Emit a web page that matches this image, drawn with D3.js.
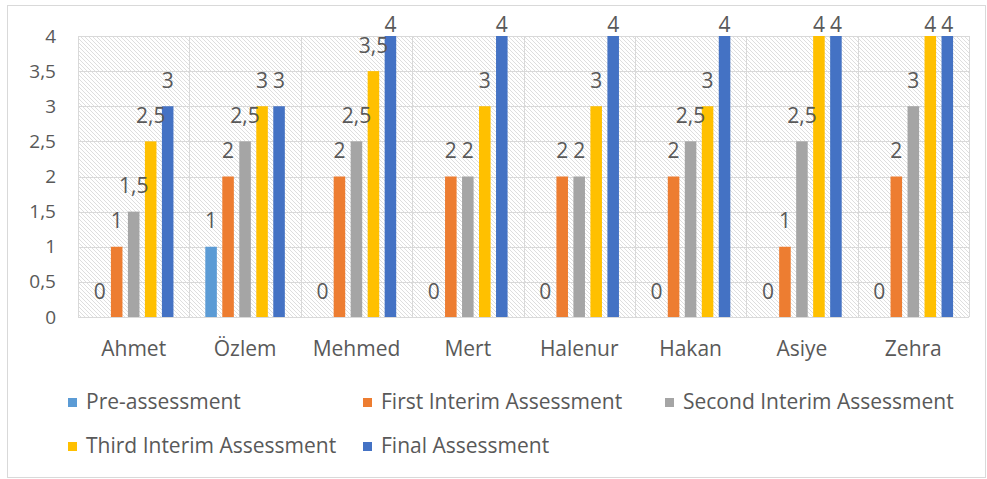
<!DOCTYPE html>
<html>
<head>
<meta charset="utf-8">
<script src="https://cdn.jsdelivr.net/npm/d3@7"></script>
<style>
  html, body { margin: 0; padding: 0; background: #ffffff; }
  svg { display: block; }
  text { font-family: "Open Sans", "Noto Sans", sans-serif; fill: #595959; }
</style>
</head>
<body>
<svg id="chart" width="987" height="479"></svg>
<script>
// ---- data ----
const categories = ["Ahmet", "Özlem", "Mehmed", "Mert", "Halenur", "Hakan", "Asiye", "Zehra"];
const seriesNames = ["Pre-assessment", "First Interim Assessment", "Second Interim Assessment", "Third Interim Assessment", "Final Assessment"];
const preAssessment    = [0, 1, 0, 0, 0, 0, 0, 0];
const firstInterim     = [1, 2, 2, 2, 2, 2, 1, 2];
const secondInterim    = [1.5, 2.5, 2.5, 2, 2, 2.5, 2.5, 3];
const thirdInterim     = [2.5, 3, 3.5, 3, 3, 3, 4, 4];
const finalAssessment  = [3, 3, 4, 4, 4, 4, 4, 4];
const yTicks = [0, 0.5, 1, 1.5, 2, 2.5, 3, 3.5, 4];
const seriesColors = ["#5B9BD5", "#ED7D31", "#A5A5A5", "#FFC000", "#4472C4"];

const seriesValues = [preAssessment, firstInterim, secondInterim, thirdInterim, finalAssessment];

// ---- layout ----
const plot = { left: 78, right: 969, top: 36, bottom: 317 };
const fmt = v => String(v).replace(".", ",");

const svg = d3.select("#chart");

// outer chart border
svg.append("rect")
  .attr("x", 7.5).attr("y", 5.5).attr("width", 978).attr("height", 472)
  .attr("fill", "#ffffff").attr("stroke", "#d9d9d9").attr("stroke-width", 1);

// hatch pattern
const defs = svg.append("defs");
const pat = defs.append("pattern")
  .attr("id", "hatch").attr("patternUnits", "userSpaceOnUse")
  .attr("width", 4).attr("height", 4);
pat.append("rect").attr("width", 4).attr("height", 4).attr("fill", "#ffffff");
pat.append("path").attr("d", "M-1,-1 L5,5 M3,-1 L5,1 M-1,3 L1,5")
  .attr("stroke", "#dedede").attr("stroke-width", 1);

const x0 = d3.scaleBand().domain(categories)
  .range([plot.left, plot.right]).paddingInner(0.237).paddingOuter(0.1185);
const x1 = d3.scaleBand().domain(seriesNames)
  .range([0, x0.bandwidth()]).paddingInner(0.32).paddingOuter(0.16);
const y = d3.scaleLinear().domain([0, 4]).range([plot.bottom, plot.top]);

// plot background
svg.append("rect")
  .attr("x", plot.left).attr("y", plot.top)
  .attr("width", plot.right - plot.left).attr("height", plot.bottom - plot.top)
  .attr("fill", "url(#hatch)");

// horizontal gridlines
svg.append("g").selectAll("line").data(yTicks).join("line")
  .attr("x1", plot.left).attr("x2", plot.right)
  .attr("y1", d => Math.round(y(d)) + 0.5).attr("y2", d => Math.round(y(d)) + 0.5)
  .attr("stroke", "#d9d9d9").attr("stroke-width", 1);

// vertical gridlines at category boundaries
const step = x0.step();
const bounds = categories.map((c, i) => plot.left + i * step).concat([plot.right]);
svg.append("g").selectAll("line").data(bounds).join("line")
  .attr("x1", d => Math.round(d) + 0.5).attr("x2", d => Math.round(d) + 0.5)
  .attr("y1", plot.top).attr("y2", plot.bottom)
  .attr("stroke", "#d9d9d9").attr("stroke-width", 1);

// y axis
const yAxis = d3.axisLeft(y).tickValues(yTicks).tickFormat(fmt).tickSize(0).tickPadding(0);
const gy = svg.append("g").attr("transform", `translate(56,0)`).call(yAxis);
gy.select(".domain").remove();
gy.selectAll("text").attr("font-size", 19).attr("fill", "#595959")
  .style("font-family", '"Open Sans", sans-serif');

// x axis
const xAxis = d3.axisBottom(x0).tickSize(0).tickPadding(0);
const gx = svg.append("g").attr("transform", `translate(0,${plot.bottom})`).call(xAxis);
gx.select(".domain").remove();
gx.selectAll("text").attr("font-size", 21).attr("fill", "#595959")
  .attr("dy", null).attr("y", 33).attr("dominant-baseline", "middle")
  .style("font-family", '"Open Sans", sans-serif');

// bars
const rows = categories.map((c, i) => ({
  cat: c,
  vals: seriesNames.map((s, j) => ({ s, j, v: seriesValues[j][i] }))
}));

const groups = svg.append("g").selectAll("g").data(rows).join("g")
  .attr("transform", d => `translate(${x0(d.cat)},0)`);

groups.selectAll("rect").data(d => d.vals).join("rect")
  .attr("x", d => x1(d.s))
  .attr("width", x1.bandwidth())
  .attr("y", d => y(d.v))
  .attr("height", d => y(0) - y(d.v))
  .attr("fill", d => seriesColors[d.j]);

groups.selectAll("text").data(d => d.vals).join("text")
  .attr("x", d => x1(d.s) + x1.bandwidth() / 2)
  .attr("y", d => Math.max(y(d.v) - 24, 26))
  .attr("text-anchor", "middle")
  .attr("dominant-baseline", "middle")
  .attr("font-size", 21)
  .text(d => fmt(d.v));

// legend
const legendPos = [
  { x: 68, y: 403 }, { x: 363, y: 403 }, { x: 665, y: 403 },
  { x: 68, y: 447 }, { x: 363, y: 447 }
];
const lg = svg.append("g").selectAll("g").data(seriesNames).join("g")
  .attr("transform", (d, i) => `translate(${legendPos[i].x},${legendPos[i].y})`);
lg.append("rect").attr("x", 0).attr("y", -5).attr("width", 9).attr("height", 9)
  .attr("fill", (d, i) => seriesColors[i]);
lg.append("text").attr("x", 18).attr("y", 0)
  .attr("dominant-baseline", "middle").attr("font-size", 21)
  .text(d => d);
</script>
</body>
</html>
